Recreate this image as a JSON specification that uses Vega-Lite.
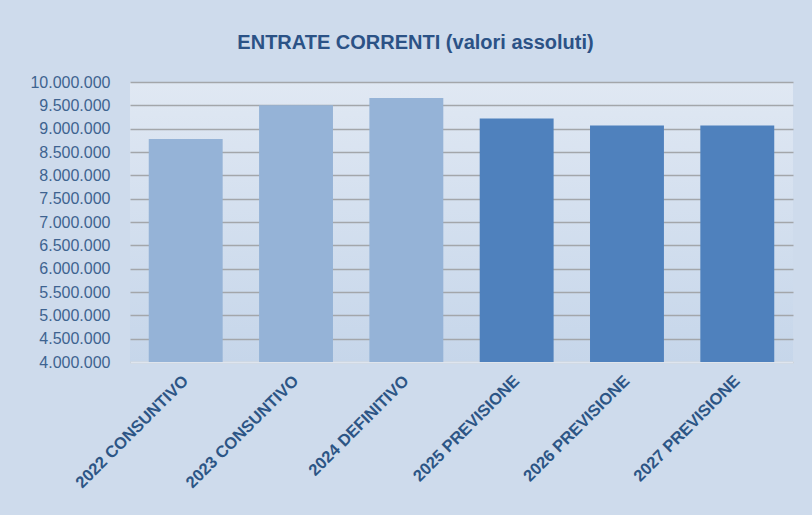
{
  "$schema": "https://vega.github.io/schema/vega-lite/v6.json",
  "width": 663,
  "height": 280,
  "autosize": "none",
  "padding": {"left": 130, "top": 82, "right": 19, "bottom": 153},
  "background": "#cedbec",
  "title": {
    "text": "ENTRATE CORRENTI (valori assoluti)",
    "font": "Liberation Sans",
    "fontSize": 20,
    "fontWeight": "bold",
    "color": "#2b5286",
    "anchor": "middle",
    "dx": -46,
    "offset": 21
  },
  "config": {
    "locale": {"number": {"decimal": ",", "thousands": ".", "grouping": [3], "currency": ["€", ""]}},
    "view": {"stroke": null, "fill": {"gradient": "linear", "x1": 0, "y1": 0, "x2": 0, "y2": 1, "stops": [{"offset": 0, "color": "#e0e8f3"}, {"offset": 1, "color": "#c6d6ea"}]}},
    "axis": {"labelFont": "Liberation Sans"}
  },
  "data": {
    "values": [
      {"anno": "2022 CONSUNTIVO", "valore": 8780000, "tipo": "consuntivo"},
      {"anno": "2023 CONSUNTIVO", "valore": 9500000, "tipo": "consuntivo"},
      {"anno": "2024 DEFINITIVO", "valore": 9655000, "tipo": "consuntivo"},
      {"anno": "2025 PREVISIONE", "valore": 9220000, "tipo": "previsione"},
      {"anno": "2026 PREVISIONE", "valore": 9070000, "tipo": "previsione"},
      {"anno": "2027 PREVISIONE", "valore": 9070000, "tipo": "previsione"}
    ]
  },
  "mark": {"type": "bar", "clip": true},
  "encoding": {
    "x": {
      "field": "anno",
      "type": "nominal",
      "sort": null,
      "scale": {"paddingInner": 0.33, "paddingOuter": 0.17},
      "axis": {
        "title": null,
        "labelAngle": -45,
        "labelAlign": "right",
        "labelBaseline": "middle",
        "labelPadding": 16,
        "labelFontSize": 16.5,
        "labelFontWeight": "bold",
        "labelColor": "#2c5585",
        "ticks": false,
        "domain": true,
        "domainColor": "#dfe5ee",
        "domainWidth": 2
      }
    },
    "y": {
      "field": "valore",
      "type": "quantitative",
      "scale": {"domain": [4000000, 10000000], "zero": false, "nice": false},
      "axis": {
        "title": null,
        "values": [4000000, 4500000, 5000000, 5500000, 6000000, 6500000, 7000000, 7500000, 8000000, 8500000, 9000000, 9500000, 10000000],
        "format": ",d",
        "labelFontSize": 16,
        "labelColor": "#3e6390",
        "labelPadding": 20,
        "ticks": false,
        "domain": false,
        "grid": true,
        "gridColor": "#a3a6aa",
        "gridWidth": 1.5
      }
    },
    "color": {
      "field": "tipo",
      "type": "nominal",
      "scale": {"domain": ["consuntivo", "previsione"], "range": ["#95b3d7", "#4f81bd"]},
      "legend": null
    }
  }
}
